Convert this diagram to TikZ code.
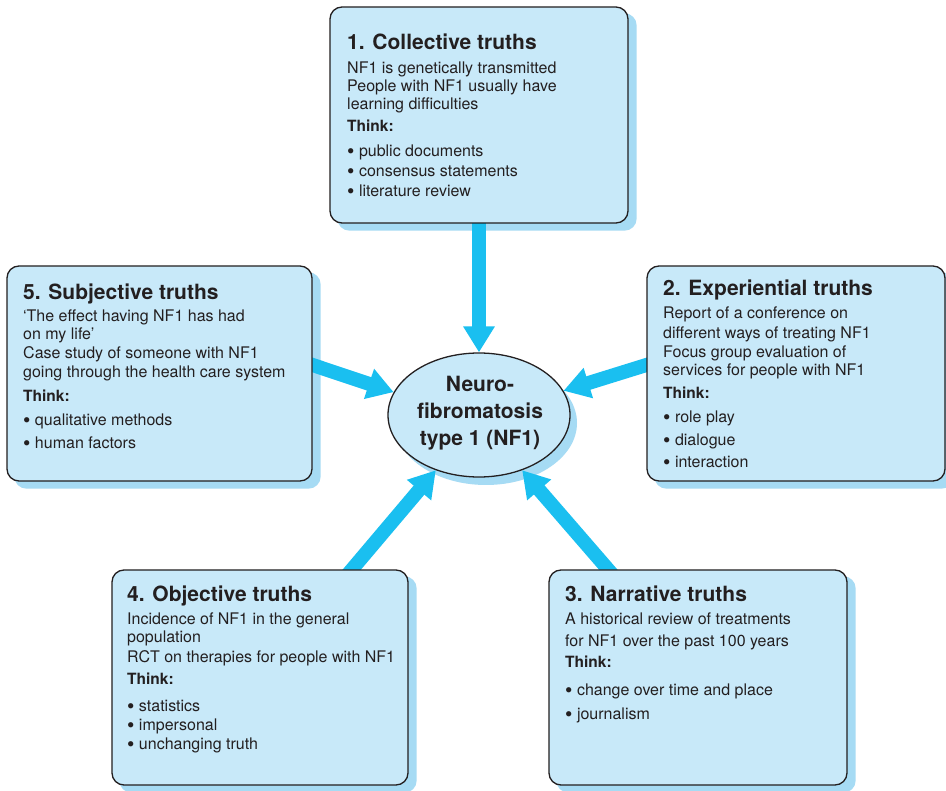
\documentclass[tikz,border=0pt]{standalone}
\usepackage{fontspec}
\setmainfont{TeX Gyre Heros}
\usetikzlibrary{arrows.meta,calc,shapes.geometric}
\definecolor{boxfill}{RGB}{200,233,249}
\definecolor{shadowc}{RGB}{166,219,244}
\definecolor{arrowc}{RGB}{26,191,240}
\definecolor{ink}{RGB}{35,31,32}
\newcommand{\bigbul}{\raisebox{-1.6pt}{\fontsize{21}{21}\selectfont\textbullet}\ }
\pgfdeclarelayer{bg}
\pgfdeclarelayer{mid}
\pgfsetlayers{bg,mid,main}
\tikzset{
  truthbox/.style={rectangle, draw=ink, line width=1.3pt, fill=boxfill, rounded corners=12pt, inner sep=0pt},
  boxshadow/.style={fill=shadowc, rounded corners=12pt},
  ttl/.style={anchor=base west, inner sep=0pt, text=ink, font=\bfseries\fontsize{21}{24}\selectfont},
  bodytxt/.style={anchor=base west, inner sep=0pt, text=ink, font=\fontsize{16}{19}\selectfont},
  thinktxt/.style={anchor=base west, inner sep=0pt, text=ink, font=\bfseries\fontsize{15.5}{19}\selectfont},
  bigarrow/.style={draw=arrowc, line width=14pt, -{Triangle[width=30pt,length=26pt]}, arrowc}
}
\begin{document}
\begin{tikzpicture}[x=1pt,y=-1pt]
\useasboundingbox (0,0) rectangle (946,791);
\begin{pgfonlayer}{bg}
  \fill[white] (0,0) rectangle (946,791);
\end{pgfonlayer}

% boxes
\node[truthbox, minimum width=298pt, minimum height=216pt] (b1) at (479,115) {};
\node[truthbox, minimum width=305pt, minimum height=215pt] (b5) at (159.5,373.5) {};
\node[truthbox, minimum width=298pt, minimum height=215pt] (b2) at (796,373.5) {};
\node[truthbox, minimum width=296pt, minimum height=215pt] (b4) at (260,677.5) {};
\node[truthbox, minimum width=298pt, minimum height=215pt] (b3) at (698,677.5) {};
\node[ellipse, draw=ink, line width=1.3pt, fill=boxfill, minimum width=182pt, minimum height=124pt, inner sep=0pt] (ell) at (479,415) {};

% shadows
\begin{pgfonlayer}{bg}
  \foreach \b in {b1,b2,b3,b4,b5}{
    \fill[boxshadow] ([shift={(8,7)}]\b.south west) rectangle ([shift={(8,7)}]\b.north east);
  }
  \fill[shadowc] ([shift={(7,8)}]ell.center) ellipse [x radius=91pt, y radius=62pt];
\end{pgfonlayer}

% arrows
\coordinate (s1) at (b1.south);
\coordinate (s5) at ($(b5.east)+(0,-8.5)$);
\coordinate (s2) at ($(b2.west)+(0,-8.5)$);
\coordinate (s4) at ($(b4.north)+(92,0)$);
\coordinate (s3) at ($(b3.north)+(-90,0)$);
\begin{pgfonlayer}{mid}
  \draw[bigarrow] ($(s1)!-12pt!(ell.north)$) -- (ell.north);
  \draw[bigarrow] ($(s5)!-12pt!(ell.165)$) -- (ell.165);
  \draw[bigarrow] ($(s2)!-12pt!(ell.16)$) -- (ell.16);
  \draw[bigarrow] ($(s4)!-12pt!(ell.232.5)$) -- (ell.232.5);
  \draw[bigarrow] ($(s3)!-12pt!(ell.308)$) -- (ell.308);
\end{pgfonlayer}

% centre text
\node[inner sep=0pt, align=center, text=ink, font=\bfseries\fontsize{21}{27}\selectfont] (elltext) at (480,413) {Neuro-\\fibromatosis\\type 1 (NF1)};

% box 1
\node[ttl] (b1t) at (347,49.6) {1. Collective truths};
\node[bodytxt] (b1l1) at (347,73.8) {NF1 is genetically transmitted};
\node[bodytxt] (b1l2) at (347,91.8) {People with NF1 usually have};
\node[bodytxt] (b1l3) at (347,109.8) {learning difficulties};
\node[thinktxt] (b1k) at (347,131.8) {Think:};
\node[bodytxt] (b1i1) at (347,156.8) {\bigbul public documents};
\node[bodytxt] (b1i2) at (347,176.8) {\bigbul consensus statements};
\node[bodytxt] (b1i3) at (347,196.8) {\bigbul literature review};

% box 5
\node[ttl] (b5t) at (23,299.6) {5. Subjective truths};
\node[bodytxt] (b5l1) at (23,321.8) {‘The effect having NF1 has had};
\node[bodytxt] (b5l2) at (23,339.8) {on my life’};
\node[bodytxt] (b5l3) at (23,358.8) {Case study of someone with NF1};
\node[bodytxt] (b5l4) at (23,377.8) {going through the health care system};
\node[thinktxt] (b5k) at (23,401.8) {Think:};
\node[bodytxt] (b5i1) at (23,425.8) {\bigbul qualitative methods};
\node[bodytxt] (b5i2) at (23,448.8) {\bigbul human factors};

% box 2
\node[ttl] (b2t) at (663,295.6) {2. Experiential truths};
\node[bodytxt] (b2l1) at (663,318.8) {Report of a conference on};
\node[bodytxt] (b2l2) at (663,338.8) {different ways of treating NF1};
\node[bodytxt] (b2l3) at (663,357.8) {Focus group evaluation of};
\node[bodytxt] (b2l4) at (663,375.8) {services for people with NF1};
\node[thinktxt] (b2k) at (663,398.8) {Think:};
\node[bodytxt] (b2i1) at (663,422.8) {\bigbul role play};
\node[bodytxt] (b2i2) at (663,445.8) {\bigbul dialogue};
\node[bodytxt] (b2i3) at (663,467.8) {\bigbul interaction};

% box 4
\node[ttl] (b4t) at (127,601.6) {4. Objective truths};
\node[bodytxt] (b4l1) at (127,624.8) {Incidence of NF1 in the general};
\node[bodytxt] (b4l2) at (127,642.8) {population};
\node[bodytxt] (b4l3) at (127,662.8) {RCT on therapies for people with NF1};
\node[thinktxt] (b4k) at (127,684.8) {Think:};
\node[bodytxt] (b4i1) at (127,711.8) {\bigbul statistics};
\node[bodytxt] (b4i2) at (127,730.8) {\bigbul impersonal};
\node[bodytxt] (b4i3) at (127,749.8) {\bigbul unchanging truth};

% box 3
\node[ttl] (b3t) at (565,601.6) {3. Narrative truths};
\node[bodytxt] (b3l1) at (565,624.8) {A historical review of treatments};
\node[bodytxt] (b3l2) at (565,646.8) {for NF1 over the past 100 years};
\node[thinktxt] (b3k) at (565,667.8) {Think:};
\node[bodytxt] (b3i1) at (565,695.8) {\bigbul change over time and place};
\node[bodytxt] (b3i2) at (565,719.8) {\bigbul journalism};
\end{tikzpicture}
\end{document}
